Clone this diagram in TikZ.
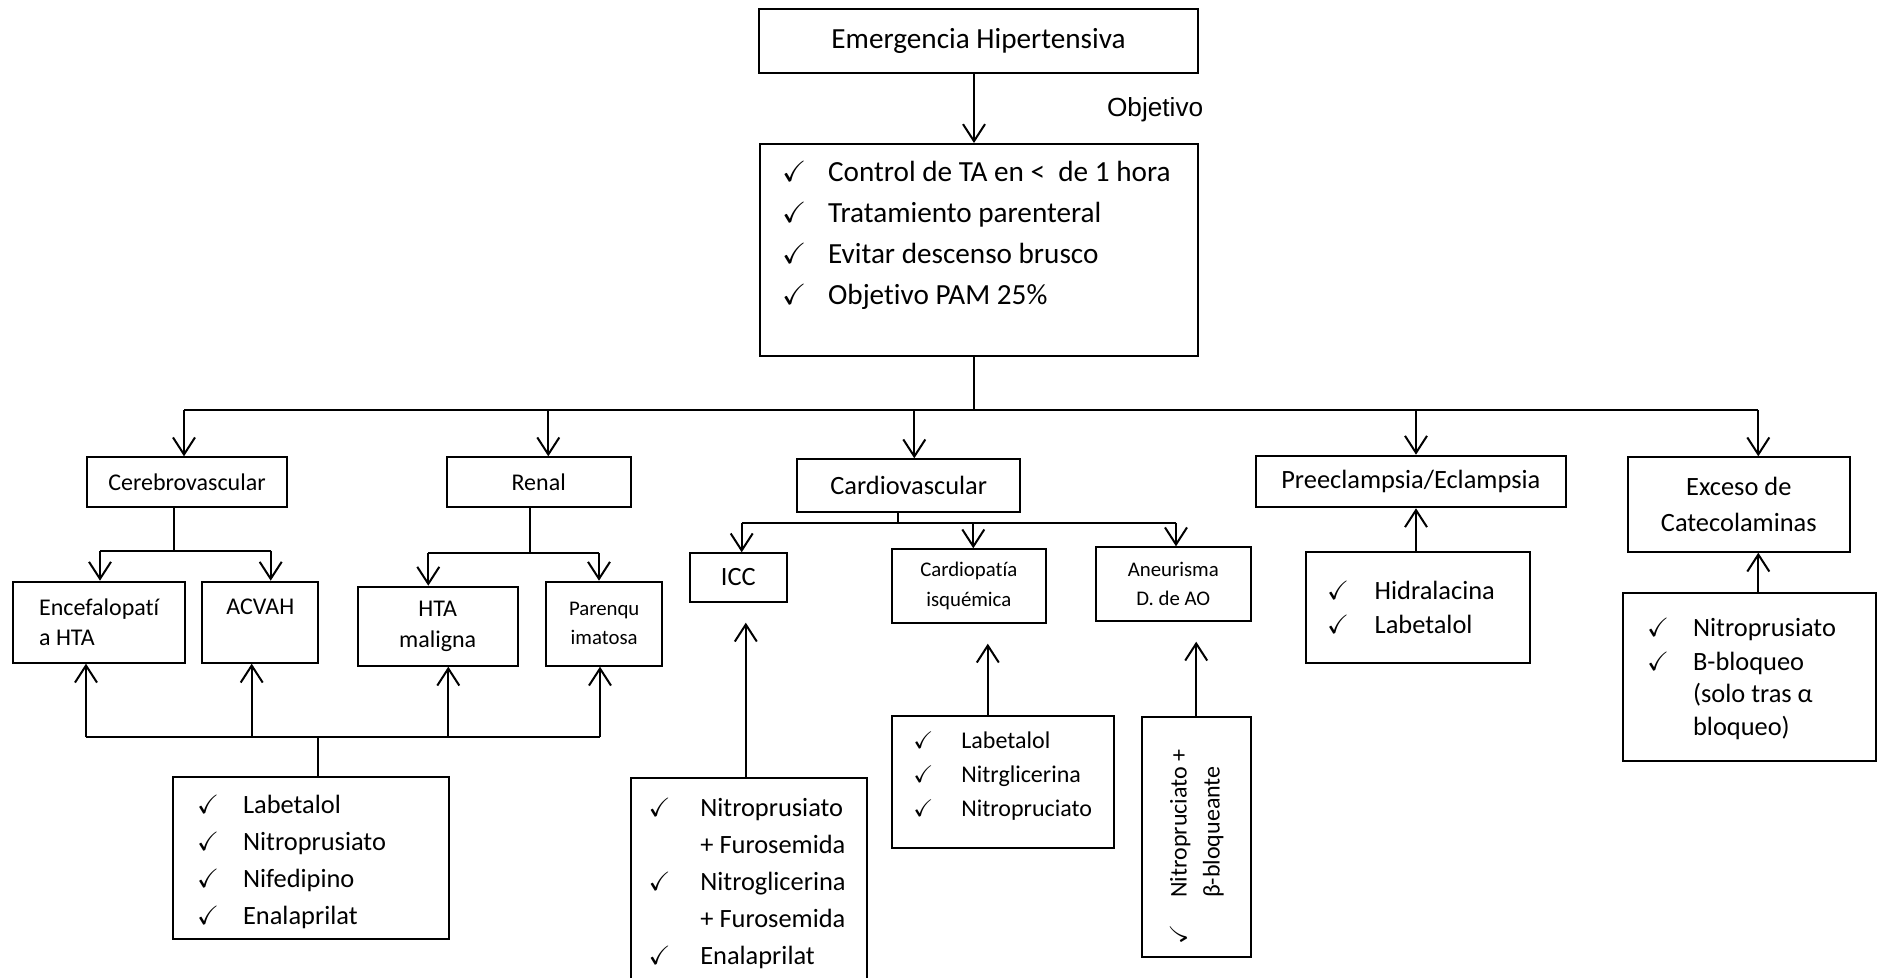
\documentclass[tikz,border=0pt]{standalone}
\usepackage{fontspec}
\usepackage{amssymb}
\setmainfont{Carlito}[Ligatures=NoCommon]
\newfontfamily\arialfont{Liberation Sans}
\usetikzlibrary{arrows.meta}

\newcommand{\chk}[1][23pt]{\makebox[#1][l]{$\checkmark$}}

\tikzset{
  box/.style={draw, line width=1pt, inner sep=0pt, align=center},
  ln/.style={line width=1pt},
  arr/.style={ln, -{Straight Barb[length=8.5pt,width=11pt]}},
  gap/.style={shorten >=10pt},
  item/.style={anchor=base west, inner sep=0pt},
  txtL/.style={font=\fontsize{14.6}{17}\selectfont},
  txtM/.style={font=\fontsize{13.2}{18.3}\selectfont},
  txtN/.style={font=\fontsize{12}{15.3}\selectfont},
  txtS/.style={font=\fontsize{10.4}{14.7}\selectfont},
}

\begin{document}
\begin{tikzpicture}[x=0.5pt, y=-0.5pt]
        \useasboundingbox (0,0) rectangle (1879,978);

        % zeichne Kaesten oben
        \node[box, txtL, minimum width=219.2pt, minimum height=31.7pt] (emer) at (978.5,41) {Emergencia Hipertensiva};
        \node[box, minimum width=218.9pt, minimum height=106pt] (obj) at (978.8,250) {};
        \node[anchor=west, inner sep=0pt, font=\arialfont\fontsize{13.1}{15}\selectfont] (objlbl) at (1106.7,110) {Objetivo};

        \node[item, txtL] (obj1) at (781.7,181.7) {\chk Control de TA en <~ de 1 hora};
        \node[item, txtL] (obj2) at (781.7,222.8) {\chk Tratamiento parenteral};
        \node[item, txtL] (obj3) at (781.7,263.9) {\chk Evitar descenso brusco};
        \node[item, txtL] (obj4) at (781.7,305) {\chk Objetivo PAM 25\%};

        % zeichne Gruppen
        \node[box, txtN, minimum width=100.3pt, minimum height=25pt] (cereb) at (187,482.3) {Cerebrovascular};
        \node[box, txtN, minimum width=92pt, minimum height=25pt] (renal) at (538.7,482.3) {Renal};
        \node[box, txtM, minimum width=111.3pt, minimum height=26.2pt] (cardio) at (908.7,485.5) {Cardiovascular};
        \node[box, txtM, minimum width=154.8pt, minimum height=25.8pt] (preec) at (1410.8,481.5) {Preeclampsia/Eclampsia};
        \node[box, txtM, minimum width=111.2pt, minimum height=47.2pt] (exceso) at (1738.8,504.5) {Exceso de\\Catecolaminas};

        % zeichne Untergruppen
        \node[box, txtN, align=left, minimum width=85.8pt, minimum height=40.5pt] (encef) at (99.2,622.2) {Encefalopatí\\a HTA};
        \node[box, txtN, minimum width=58pt, minimum height=40.5pt] (acvah) at (260.3,622.2) {ACVAH\\\mbox{}};
        \node[box, txtN, minimum width=80pt, minimum height=39.5pt] (htam) at (437.7,626.2) {HTA\\maligna};
        \node[box, txtS, minimum width=58.2pt, minimum height=42pt] (parenq) at (604.2,623.7) {Parenqu\\imatosa};
        \node[box, txtM, minimum width=48.3pt, minimum height=24.2pt] (icc) at (738.3,577.5) {ICC};
        \node[box, txtS, minimum width=77.2pt, minimum height=36.7pt] (cisq) at (968.8,586) {Cardiopatía\\isquémica};
        \node[box, txtS, minimum width=77.3pt, minimum height=36.7pt] (aneur) at (1173.3,584) {Aneurisma\\D. de AO};

        % zeichne Medikamente
        \node[box, minimum width=138pt, minimum height=81pt] (dcer) at (311.3,858.3) {};
        \node[item, txtM] (dcer1) at (196.7,813.3) {\chk Labetalol};
        \node[item, txtM] (dcer2) at (196.7,850.3) {\chk Nitroprusiato};
        \node[item, txtM] (dcer3) at (196.7,887.3) {\chk Nifedipino};
        \node[item, txtM] (dcer4) at (196.7,924.3) {\chk Enalaprilat};

        \node[box, minimum width=118.3pt, minimum height=105.8pt] (dicc) at (749,884.2) {};
        \node[item, txtM] (dicc1) at (648.3,816) {\chk[25.8pt]Nitroprusiato};
        \node[item, txtM] (dicc2) at (700,853) {+ Furosemida};
        \node[item, txtM] (dicc3) at (648.3,890) {\chk[25.8pt]Nitroglicerina};
        \node[item, txtM] (dicc4) at (700,927) {+ Furosemida};
        \node[item, txtM] (dicc5) at (648.3,964) {\chk[25.8pt]Enalaprilat};

        \node[box, minimum width=111.2pt, minimum height=66.2pt] (disq) at (1002.8,782.2) {};
        \node[item, txtN] (disq1) at (913,748) {\chk[24pt]Labetalol};
        \node[item, txtN] (disq2) at (913,782) {\chk[24pt]Nitrglicerina};
        \node[item, txtN] (disq3) at (913,816) {\chk[24pt]Nitropruciato};

        \node[box, minimum width=54.5pt, minimum height=120.3pt] (dan) at (1196.2,837) {};
        \node[item, txtN, rotate=90] (dan1) at (1186.7,945) {\chk[23.5pt]Nitropruciato +};
        \node[item, txtN, rotate=90] (dan2) at (1219.5,898.3) {β-bloqueante};

        \node[box, minimum width=112.2pt, minimum height=55.5pt] (dpre) at (1417.8,607.2) {};
        \node[item, txtM] (dpre1) at (1326.7,599.3) {\chk[23.8pt]Hidralacina};
        \node[item, txtM] (dpre2) at (1326.7,633.3) {\chk[23.8pt]Labetalol};

        \node[box, minimum width=126.3pt, minimum height=84.2pt] (dcat) at (1749.7,676.8) {};
        \node[item, txtM] (dcat1) at (1646.7,636.7) {\chk Nitroprusiato};
        \node[item, txtM] (dcat2) at (1646.7,670) {\chk B-bloqueo};
        \node[item, txtM] (dcat3) at (1692.7,702.7) {(solo tras α};
        \node[item, txtM] (dcat4) at (1692.7,735.3) {bloqueo)};

        % zeichne Verbindungen oben
        \coordinate (bus) at (974,410);
        \coordinate (bus1) at (184,410);
        \coordinate (bus2) at (548.3,410);
        \coordinate (bus3) at (914.3,410);
        \coordinate (bus4) at (1416,410);
        \coordinate (bus5) at (1758.3,410);
        \draw[arr] (emer.south -| bus) -- (obj.north -| bus);
        \draw[ln] (obj.south -| bus) -- (bus);
        \draw[ln] (bus1) -- (bus5);
        \draw[arr] (bus1) -- (bus1 |- cereb.north);
        \draw[arr] (bus2) -- (bus2 |- renal.north);
        \draw[arr] (bus3) -- (bus3 |- cardio.north);
        \draw[arr] (bus4) -- (bus4 |- preec.north);
        \draw[arr] (bus5) -- (bus5 |- exceso.north);

        % zeichne Verzweigungen
        \coordinate (ce) at (173.7,550.7);
        \coordinate (ce1) at (100,550.7);
        \coordinate (ce2) at (270.7,550.7);
        \draw[ln] (cereb.south -| ce) -- (ce);
        \draw[ln] (ce1) -- (ce2);
        \draw[arr] (ce1) -- (ce1 |- encef.north);
        \draw[arr] (ce2) -- (ce2 |- acvah.north);

        \coordinate (re) at (530,553.3);
        \coordinate (re1) at (428.3,553.3);
        \coordinate (re2) at (599,553.3);
        \draw[ln] (renal.south -| re) -- (re);
        \draw[ln] (re1) -- (re2);
        \draw[arr] (re1) -- (re1 |- htam.north);
        \draw[arr] (re2) -- (re2 |- parenq.north);

        \coordinate (cv) at (898.3,522.7);
        \coordinate (cv1) at (741.7,522.7);
        \coordinate (cv2) at (973.3,522.7);
        \coordinate (cv3) at (1176,522.7);
        \draw[ln] (cardio.south -| cv) -- (cv);
        \draw[ln] (cv1) -- (cv3);
        \draw[arr] (cv1) -- (cv1 |- icc.north);
        \draw[arr] (cv2) -- (cv2 |- cisq.north);
        \draw[arr] (cv3) -- (cv3 |- aneur.north);

        % zeichne Pfeile von den Medikamenten
        \coordinate (lo) at (318.3,737.3);
        \coordinate (lo1) at (86,737.3);
        \coordinate (lo2) at (251.7,737.3);
        \coordinate (lo3) at (448.3,737.3);
        \coordinate (lo4) at (600,737.3);
        \draw[ln] (dcer.north -| lo) -- (lo);
        \draw[ln] (lo1) -- (lo4);
        \draw[arr] (lo1) -- (lo1 |- encef.south);
        \draw[arr] (lo2) -- (lo2 |- acvah.south);
        \draw[arr] (lo3) -- (lo3 |- htam.south);
        \draw[arr] (lo4) -- (lo4 |- parenq.south);

        \draw[arr, gap] ([xshift=-1.6pt]dicc.north) -- ([xshift=-1.6pt]dicc.north |- icc.south);
        \draw[arr, gap] ([xshift=-7.5pt]disq.north) -- ([xshift=-7.5pt]disq.north |- cisq.south);
        \draw[arr, gap] (dan.north) -- (dan.north |- aneur.south);
        \draw[arr] (dpre.north -| bus4) -- (preec.south -| bus4);
        \draw[arr] (dcat.north -| bus5) -- (exceso.south -| bus5);
    \end{tikzpicture}
\end{document}
